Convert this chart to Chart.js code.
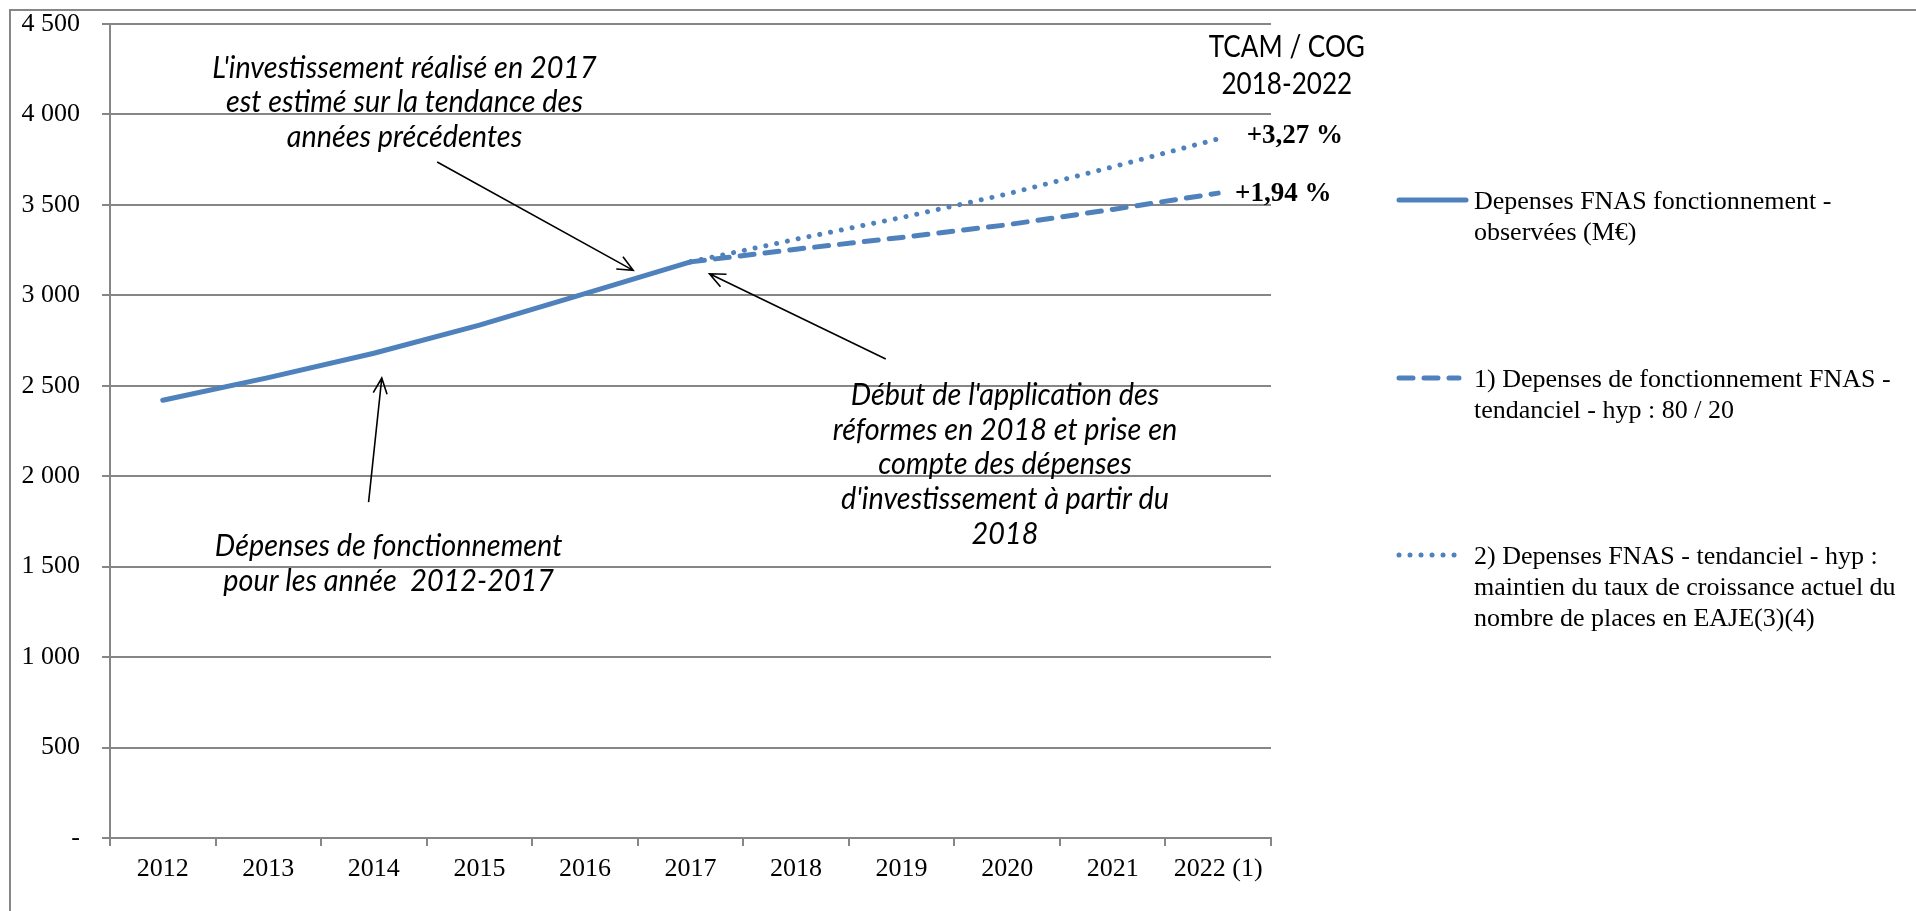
<!DOCTYPE html>
<html>
<head>
<meta charset="utf-8">
<script src="https://cdn.jsdelivr.net/npm/chart.js@4"></script>
<style>
  html, body { margin: 0; padding: 0; background: #fff; }
  #wrap { width: 1916px; height: 911px; position: relative; }
</style>
</head>
<body>
<div id="wrap"><canvas id="myChart"></canvas></div>
<script>
// Categories
const years = ['2012', '2013', '2014', '2015', '2016', '2017', '2018', '2019', '2020', '2021', '2022 (1)'];

// Series values (M€)
const observed = [2420, 2545, 2680, 2835, 3010, 3185, null, null, null, null, null];
const trend8020 = [null, null, null, null, null, 3185, 3255, 3320, 3390, 3475, 3565];
const trendEaje = [null, null, null, null, null, 3185, 3310, 3430, 3560, 3710, 3865];

// Legend labels (wrapped like the original)
const legendLabels = [
    ['Depenses FNAS fonctionnement -', 'observées (M€)'],
    ['1) Depenses de fonctionnement FNAS -', 'tendanciel - hyp : 80 / 20'],
    ['2) Depenses FNAS - tendanciel - hyp :', 'maintien du taux de croissance actuel du', 'nombre de places en EAJE(3)(4)']
];

// Y axis
const yMin = 0;
const yMax = 4500;
const yStep = 500;

// TCAM labels
const tcamTitle = ['TCAM / COG', '2018-2022'];
const tcamLabels = ['+3,27 %', '+1,94 %'];

// Annotations (x in category index, y in M€)
const notes = [
    { lines: ["L'investissement réalisé en 2017", 'est estimé sur la tendance des', 'années précédentes'], x: 2.29, y: 4259 },
    { lines: ['Dépenses de fonctionnement', 'pour les année  2012-2017'], x: 2.14, y: 1615 },
    { lines: ["Début de l'application des", 'réformes en 2018 et prise en', 'compte des dépenses', "d'investissement à partir du", '2018'], x: 7.98, y: 2450 }
];
const arrows = [
    { from: [2.60, 3737], to: [4.457, 3138] },
    { from: [1.95, 1857], to: [2.075, 2543] },
    { from: [6.85, 2648], to: [5.18, 3119] }
];

const blue = '#4F81BD';
const grey = '#868686';

function formatTick(v) {
    if (v === 0) return '-';
    return String(v).replace(/\B(?=(\d{3})+(?!\d))/g, ' ');
}

function drawArrow(ctx, x1, y1, x2, y2) {
    const ang = Math.atan2(y2 - y1, x2 - x1);
    const len = 17;
    const spread = 0.42;
    ctx.beginPath();
    ctx.moveTo(x1, y1);
    ctx.lineTo(x2, y2);
    ctx.moveTo(x2 - len * Math.cos(ang - spread), y2 - len * Math.sin(ang - spread));
    ctx.lineTo(x2, y2);
    ctx.lineTo(x2 - len * Math.cos(ang + spread), y2 - len * Math.sin(ang + spread));
    ctx.stroke();
}

// narrow, tall text (the original uses Calibri)
function narrowText(ctx, text, x, y, sx) {
    ctx.save();
    ctx.translate(x, y);
    ctx.scale(sx, 1);
    ctx.fillText(text, 0, 0);
    ctx.restore();
}

// Outer frame (left + top edge of the pasted chart)
const framePlugin = {
    id: 'frame',
    beforeDraw(chart) {
        const ctx = chart.ctx;
        ctx.save();
        ctx.strokeStyle = grey;
        ctx.lineWidth = 2;
        ctx.beginPath();
        ctx.moveTo(10, chart.height);
        ctx.lineTo(10, 10);
        ctx.lineTo(chart.width, 10);
        ctx.stroke();
        ctx.restore();
    }
};

// Notes, arrows, TCAM labels and the legend
const notesPlugin = {
    id: 'notes',
    afterDraw(chart) {
        const ctx = chart.ctx;
        const xs = chart.scales.x;
        const ys = chart.scales.y;
        const area = chart.chartArea;
        ctx.save();

        // italic notes
        ctx.fillStyle = '#000';
        ctx.font = 'italic 31px Lato';
        ctx.textAlign = 'center';
        ctx.textBaseline = 'middle';
        notes.forEach(n => {
            const px = xs.getPixelForValue(n.x);
            const py = ys.getPixelForValue(n.y);
            n.lines.forEach((line, i) => narrowText(ctx, line, px, py + i * 34.8, 0.93));
        });

        // arrows
        ctx.strokeStyle = '#000';
        ctx.lineWidth = 1.6;
        arrows.forEach(a => {
            drawArrow(ctx,
                xs.getPixelForValue(a.from[0]), ys.getPixelForValue(a.from[1]),
                xs.getPixelForValue(a.to[0]), ys.getPixelForValue(a.to[1]));
        });

        // TCAM title
        ctx.font = '30px Lato';
        const tx = xs.getPixelForValue(10.65);
        const ty = ys.getPixelForValue(4370);
        tcamTitle.forEach((line, i) => narrowText(ctx, line, tx, ty + i * 37, 0.87));

        // TCAM values, at the end of each projection
        ctx.font = 'bold 27px "Liberation Serif"';
        ctx.textAlign = 'left';
        ctx.fillText(tcamLabels[0], xs.getPixelForValue(10.27), ys.getPixelForValue(trendEaje[10]) - 3);
        ctx.fillText(tcamLabels[1], xs.getPixelForValue(10.16), ys.getPixelForValue(trend8020[10]) + 1);

        // legend
        const legendY = [200, 378, 555];
        const lx = area.right + 126;
        chart.data.datasets.forEach((ds, i) => {
            ctx.strokeStyle = ds.borderColor;
            ctx.lineWidth = ds.borderWidth;
            ctx.lineCap = ds.borderCapStyle || 'butt';
            ctx.setLineDash(ds.borderDash || []);
            ctx.beginPath();
            ctx.moveTo(lx + 2, legendY[i]);
            ctx.lineTo(lx + (i === 0 ? 69 : 62), legendY[i]);
            ctx.stroke();
            ctx.setLineDash([]);
            ctx.fillStyle = '#000';
            ctx.font = '26px "Liberation Serif"';
            ctx.textBaseline = 'middle';
            legendLabels[i].forEach((line, j) => ctx.fillText(line, lx + 77, legendY[i] + 2 + j * 31));
        });
        ctx.restore();
    }
};

const ctx = document.getElementById('myChart').getContext('2d');
const myChart = new Chart(ctx, {
    type: 'line',
    data: {
        labels: years,
        datasets: [
            {
                label: 'observed',
                data: observed,
                borderColor: blue,
                borderWidth: 5,
                borderCapStyle: 'round',
                pointRadius: 0,
                tension: 0
            },
            {
                label: 'trend8020',
                data: trend8020,
                borderColor: blue,
                borderWidth: 5,
                borderDash: [14, 11],
                borderCapStyle: 'round',
                pointRadius: 0,
                tension: 0
            },
            {
                label: 'trendEaje',
                data: trendEaje,
                borderColor: blue,
                borderWidth: 5,
                borderDash: [0.01, 11],
                borderCapStyle: 'round',
                pointRadius: 0,
                tension: 0
            }
        ]
    },
    options: {
        responsive: true,
        maintainAspectRatio: false,
        animation: false,
        layout: { padding: { left: 0, top: 24, right: 645, bottom: 0 } },
        plugins: {
            legend: { display: false },
            tooltip: { enabled: false }
        },
        scales: {
            x: {
                offset: true,
                grid: {
                    offset: true,
                    drawOnChartArea: false,
                    color: grey,
                    lineWidth: 2,
                    tickLength: 8
                },
                border: { color: grey, width: 2 },
                ticks: {
                    color: '#000',
                    font: { family: '"Liberation Serif"', size: 26 },
                    padding: 8,
                    maxRotation: 0,
                    autoSkip: false
                },
                afterFit(scale) { scale.height = 73; }
            },
            y: {
                min: yMin,
                max: yMax,
                ticks: {
                    stepSize: yStep,
                    color: '#000',
                    font: { family: '"Liberation Serif"', size: 26 },
                    padding: 22,
                    callback: formatTick
                },
                grid: {
                    color: grey,
                    lineWidth: 2,
                    tickLength: 8
                },
                border: { color: grey, width: 2 },
                afterFit(scale) {
                    scale.width = 110;
                    scale.paddingTop = 0;
                    scale.paddingBottom = 0;
                }
            }
        }
    },
    plugins: [framePlugin, notesPlugin]
});
</script>
</body>
</html>
